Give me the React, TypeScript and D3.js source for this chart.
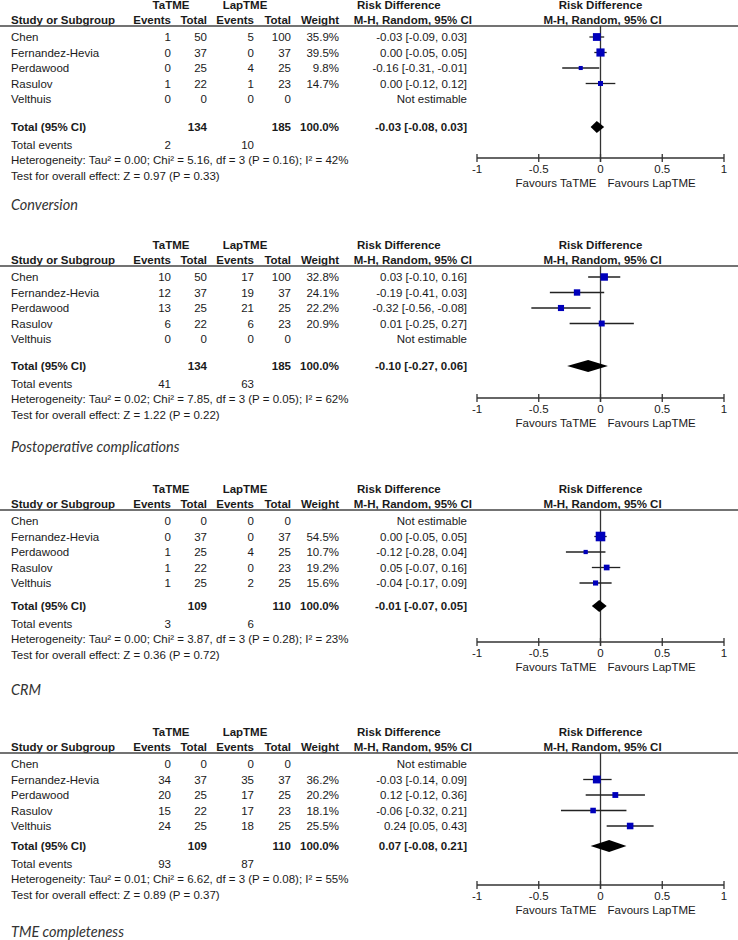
import React from "react";
import { scaleLinear, format } from "d3";

// Studies, same order in every outcome
const studies = ["Chen", "Fernandez-Hevia", "Perdawood", "Rasulov", "Velthuis"];
const outcomes = ["Conversion", "Postoperative complications", "CRM", "TME completeness"];

// Per outcome, per study
const taEvents = [[1, 0, 0, 1, 0], [10, 12, 13, 6, 0], [0, 0, 1, 1, 1], [0, 34, 20, 15, 24]];
const taTotals = [[50, 37, 25, 22, 0], [50, 37, 25, 22, 0], [0, 37, 25, 22, 25], [0, 37, 25, 22, 25]];
const lapEvents = [[5, 0, 4, 1, 0], [17, 19, 21, 6, 0], [0, 0, 4, 0, 2], [0, 35, 17, 17, 18]];
const lapTotals = [[100, 37, 25, 23, 0], [100, 37, 25, 23, 0], [0, 37, 25, 23, 25], [0, 37, 25, 23, 25]];
const weights = [
  [35.9, 39.5, 9.8, 14.7, null],
  [32.8, 24.1, 22.2, 20.9, null],
  [null, 54.5, 10.7, 19.2, 15.6],
  [null, 36.2, 20.2, 18.1, 25.5],
];
const rdEst = [
  [-0.03, 0.0, -0.16, 0.0, null],
  [0.03, -0.19, -0.32, 0.01, null],
  [null, 0.0, -0.12, 0.05, -0.04],
  [null, -0.03, 0.12, -0.06, 0.24],
];
const rdLow = [
  [-0.09, -0.05, -0.31, -0.12, null],
  [-0.1, -0.41, -0.56, -0.25, null],
  [null, -0.05, -0.28, -0.07, -0.17],
  [null, -0.14, -0.12, -0.32, 0.05],
];
const rdHigh = [
  [0.03, 0.05, -0.01, 0.12, null],
  [0.16, 0.03, -0.08, 0.27, null],
  [null, 0.05, 0.04, 0.16, 0.09],
  [null, 0.09, 0.36, 0.21, 0.43],
];

// Pooled results per outcome
const totalTa = [134, 134, 109, 109];
const totalLap = [185, 185, 110, 110];
const eventsTa = [2, 41, 3, 93];
const eventsLap = [10, 63, 6, 87];
const poolEst = [-0.03, -0.1, -0.01, 0.07];
const poolLow = [-0.08, -0.27, -0.07, -0.08];
const poolHigh = [0.03, 0.06, 0.05, 0.21];
const tau2 = ["0.00", "0.02", "0.00", "0.01"];
const chi2 = ["5.16", "7.85", "3.87", "6.62"];
const pHet = ["0.16", "0.05", "0.28", "0.08"];
const iSq = ["42", "62", "23", "55"];
const zVal = ["0.97", "1.22", "0.36", "0.89"];
const pZ = ["0.33", "0.22", "0.72", "0.37"];

const axisTicks = [-1, -0.5, 0, 0.5, 1];

// layout
const lineY = [26, 266, 510, 753];
const totalRel = [101, 100, 96, 93];
const titleY = [205, 447, 690, 932];
const axisRel = 132;
const rowStep = 15.5;

const FONT = "'Liberation Sans', Arial, sans-serif";
const TXT = "#1a1a1a";
const BLUE = "#0000bb";

// d3 uses a unicode minus, the figure uses a plain hyphen
const f2 = format(".2f");
const fmt = (v: number) => f2(v).replace("\u2212", "-");
const rdText = (e: number, l: number, h: number) => `${fmt(e)} [${fmt(l)}, ${fmt(h)}]`;

const x = scaleLinear().domain([-1, 1]).range([477, 724]);

const col = { study: 11, ev1: 171, tot1: 207, ev2: 254, tot2: 291, wt: 339, rd: 467 };

const Panel: React.FC<{ k: number }> = ({ k }) => {
  const top = lineY[k];
  const rowY = (i: number) => top + 11 + i * rowStep;
  const totY = top + totalRel[k];
  const axY = top + axisRel;
  const t = (px: number, py: number, s: string, anchor = "end", bold = false) => (
    <text x={px} y={py} dy="0.35em" textAnchor={anchor} fontWeight={bold ? "bold" : "normal"}>
      {s}
    </text>
  );
  const dh = 6;
  const diamond = [
    [x(poolLow[k]), totY],
    [x(poolEst[k]), totY - dh],
    [x(poolHigh[k]), totY],
    [x(poolEst[k]), totY + dh],
  ]
    .map((p) => p.join(","))
    .join(" ");

  return (
    <g fontFamily={FONT} fontSize={11.5} fill={TXT}>
      {/* header */}
      {t(col.ev1, top - 21, "TaTME", "middle", true)}
      {t(245, top - 21, "LapTME", "middle", true)}
      {t(357, top - 21, "Risk Difference", "start", true)}
      {t(x(0), top - 21, "Risk Difference", "middle", true)}
      {t(col.study, top - 6, "Study or Subgroup", "start", true)}
      {t(col.ev1, top - 6, "Events", "end", true)}
      {t(col.tot1, top - 6, "Total", "end", true)}
      {t(col.ev2, top - 6, "Events", "end", true)}
      {t(col.tot2, top - 6, "Total", "end", true)}
      {t(col.wt, top - 6, "Weight", "end", true)}
      {t(col.rd + 5, top - 6, "M-H, Random, 95% CI", "end", true)}
      {t(x(0) + 2, top - 6, "M-H, Random, 95% CI", "middle", true)}
      <line x1={0} x2={738} y1={top} y2={top} stroke="#444" strokeWidth={1.5} />

      {/* zero line */}
      <line x1={x(0)} x2={x(0)} y1={top} y2={axY + 4} stroke="#333" strokeWidth={1.3} />

      {/* study rows */}
      {studies.map((s, i) => {
        const y = rowY(i);
        const w = weights[k][i];
        const e = rdEst[k][i];
        const side = w != null ? 1.3 * Math.sqrt(w) : 0;
        return (
          <g key={s}>
            {t(col.study, y, s, "start")}
            {t(col.ev1, y, String(taEvents[k][i]))}
            {t(col.tot1, y, String(taTotals[k][i]))}
            {t(col.ev2, y, String(lapEvents[k][i]))}
            {t(col.tot2, y, String(lapTotals[k][i]))}
            {w != null && t(col.wt, y, `${w.toFixed(1)}%`)}
            {e != null
              ? t(col.rd, y, rdText(e, rdLow[k][i]!, rdHigh[k][i]!))
              : t(col.rd, y, "Not estimable")}
            {e != null && (
              <>
                <line
                  x1={x(rdLow[k][i]!)}
                  x2={x(rdHigh[k][i]!)}
                  y1={y}
                  y2={y}
                  stroke="#222"
                  strokeWidth={1.3}
                />
                <rect x={x(e) - side / 2} y={y - side / 2} width={side} height={side} fill={BLUE} />
              </>
            )}
          </g>
        );
      })}

      {/* pooled */}
      {t(col.study, totY, "Total (95% CI)", "start", true)}
      {t(col.tot1, totY, String(totalTa[k]), "end", true)}
      {t(col.tot2, totY, String(totalLap[k]), "end", true)}
      {t(col.wt, totY, "100.0%", "end", true)}
      {t(col.rd, totY, rdText(poolEst[k], poolLow[k], poolHigh[k]), "end", true)}
      <polygon points={diamond} fill="#000" />

      {t(col.study, totY + 18, "Total events", "start")}
      {t(col.ev1, totY + 18, String(eventsTa[k]))}
      {t(col.ev2, totY + 18, String(eventsLap[k]))}
      {t(
        col.study,
        totY + 33,
        `Heterogeneity: Tau² = ${tau2[k]}; Chi² = ${chi2[k]}, df = 3 (P = ${pHet[k]}); I² = ${iSq[k]}%`,
        "start"
      )}
      {t(col.study, totY + 49, `Test for overall effect: Z = ${zVal[k]} (P = ${pZ[k]})`, "start")}

      {/* axis */}
      <line x1={x(-1)} x2={x(1)} y1={axY} y2={axY} stroke="#333" strokeWidth={1.5} />
      {axisTicks.map((v) => (
        <g key={v}>
          <line x1={x(v)} x2={x(v)} y1={axY - 4} y2={axY + 4} stroke="#333" strokeWidth={1.3} />
          {t(x(v), axY + 11, String(v), "middle")}
        </g>
      ))}
      {t(x(0) - 4, axY + 25, "Favours TaTME", "end")}
      {t(x(0) + 7, axY + 25, "Favours LapTME", "start")}

      {/* outcome title */}
      <text
        x={col.study}
        y={titleY[k]}
        dy="0.35em"
        fontFamily="Lato, 'Open Sans', sans-serif"
        fontStyle="italic"
        fontSize={14.5}
        fill="#333"
      >
        {outcomes[k]}
      </text>
    </g>
  );
};

export default function App() {
  return (
    <>
      <style>{`body{margin:0;background:#fff}`}</style>
      <svg width={738} height={940} style={{ display: "block" }}>
        <rect width={738} height={940} fill="#fff" />
        {outcomes.map((o, k) => (
          <Panel key={o} k={k} />
        ))}
      </svg>
    </>
  );
}
